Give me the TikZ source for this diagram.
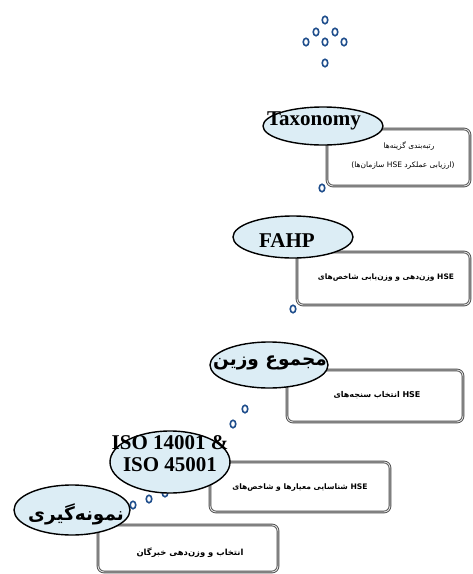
\documentclass[tikz,border=0pt]{standalone}
\usepackage{fontspec}
\setmainfont{Liberation Serif}
\newfontfamily\arabicfont[Script=Arabic]{DejaVu Sans}
\TeXXeTstate=1
\usetikzlibrary{shapes.geometric}
\definecolor{ellfill}{HTML}{DCEDF5}
\definecolor{dotblue}{HTML}{1F4E8C}
\tikzset{
 ell/.style={ellipse, draw=black, line width=1.4pt, fill=ellfill, inner sep=0pt},
 boxst/.style={rectangle, rounded corners=6pt, draw=black!70, double=black!12, double distance=0.9pt, line width=0.9pt, fill=white, inner sep=0pt},
 dot/.style={ellipse, draw=dotblue, line width=1.6pt, minimum width=5.5pt, minimum height=7.5pt, inner sep=0pt, fill=white},
 etitle/.style={font=\bfseries\fontsize{21}{22}\selectfont, inner sep=0pt, align=center},
 ftitle/.style={font=\arabicfont\bfseries\fontsize{18.5}{19}\selectfont, inner sep=0pt},
 btext/.style={font=\arabicfont\bfseries\fontsize{8}{9}\selectfont, inner sep=0pt},
 btextl/.style={font=\arabicfont\fontsize{7.5}{9}\selectfont, inner sep=0pt},
}
\begin{document}
\begin{tikzpicture}[x=1pt,y=-1pt]
\clip (0,0) rectangle (473,574);
\fill[white] (0,0) rectangle (473,574);
% boxes
\node[boxst, minimum width=143pt, minimum height=57pt] (b1) at (398.5,157.5) {};
\node[boxst, minimum width=173pt, minimum height=53pt] (b2) at (383.5,278.5) {};
\node[boxst, minimum width=176pt, minimum height=52pt] (b3) at (375,396) {};
\node[boxst, minimum width=180pt, minimum height=50pt] (b4) at (300,487) {};
\node[boxst, minimum width=180pt, minimum height=47pt] (b5) at (188,548.5) {};
% box texts
\node[btextl] (t1a) at (409,146) {\beginR رتبه‌بندی گزینه‌ها\endR};
\node[btextl] (t1b) at (403,166) {\beginR (ارزیابی عملکرد \beginL HSE\endL{} سازمان‌ها)\endR};
\node[btext, font=\arabicfont\bfseries\fontsize{7.5}{9}\selectfont] (t2) at (386,278) {\beginR وزن‌دهی و وزن‌یابی شاخص‌های\endR{} HSE};
\node[btext] (t3) at (377,395) {\beginR انتخاب سنجه‌های\endR{} HSE};
\node[btext, font=\arabicfont\bfseries\fontsize{7.6}{9}\selectfont] (t4) at (300,488) {\beginR شناسایی معیارها و شاخص‌های\endR{} HSE};
\node[btext, font=\arabicfont\bfseries\fontsize{8.4}{9}\selectfont] (t5) at (190,553) {\beginR انتخاب و وزن‌دهی خبرگان\endR};
% dots
\node[dot] (d1) at (325,20) {};
\node[dot] (d2) at (316,32) {};
\node[dot] (d3) at (335,32) {};
\node[dot] (d4) at (306,42) {};
\node[dot] (d5) at (325,42) {};
\node[dot] (d6) at (344,42) {};
\node[dot] (d7) at (325,63) {};
\node[dot] (d8) at (322,188) {};
\node[dot] (d9) at (293,309) {};
\node[dot] (d10) at (245,409) {};
\node[dot] (d11) at (233,424) {};
\node[dot] (d12) at (165,493) {};
\node[dot] (d13) at (149,499) {};
\node[dot] (d14) at (133,505) {};
% ellipses
\node[ell, minimum width=120pt, minimum height=38pt] (e1) at (323,126) {};
\node[ell, minimum width=120pt, minimum height=42pt] (e2) at (293,237) {};
\node[ell, minimum width=118pt, minimum height=46pt] (e3) at (269,365) {};
\node[ell, minimum width=120pt, minimum height=62pt] (e4) at (170,462) {};
\node[ell, minimum width=116pt, minimum height=50pt] (e5) at (72,510) {};
% ellipse titles
\node[etitle] (l1) at (314,121) {Taxonomy};
\node[etitle] (l2) at (287,241) {FAHP};
\node[ftitle] (l3) at (270,363) {\beginR مجموع وزین\endR};
\node[etitle] (l4) at (170,454) {ISO 14001 \&\\ISO 45001};
\node[ftitle] (l5) at (76,514) {\beginR نمونه‌گیری\endR};
\end{tikzpicture}
\end{document}
